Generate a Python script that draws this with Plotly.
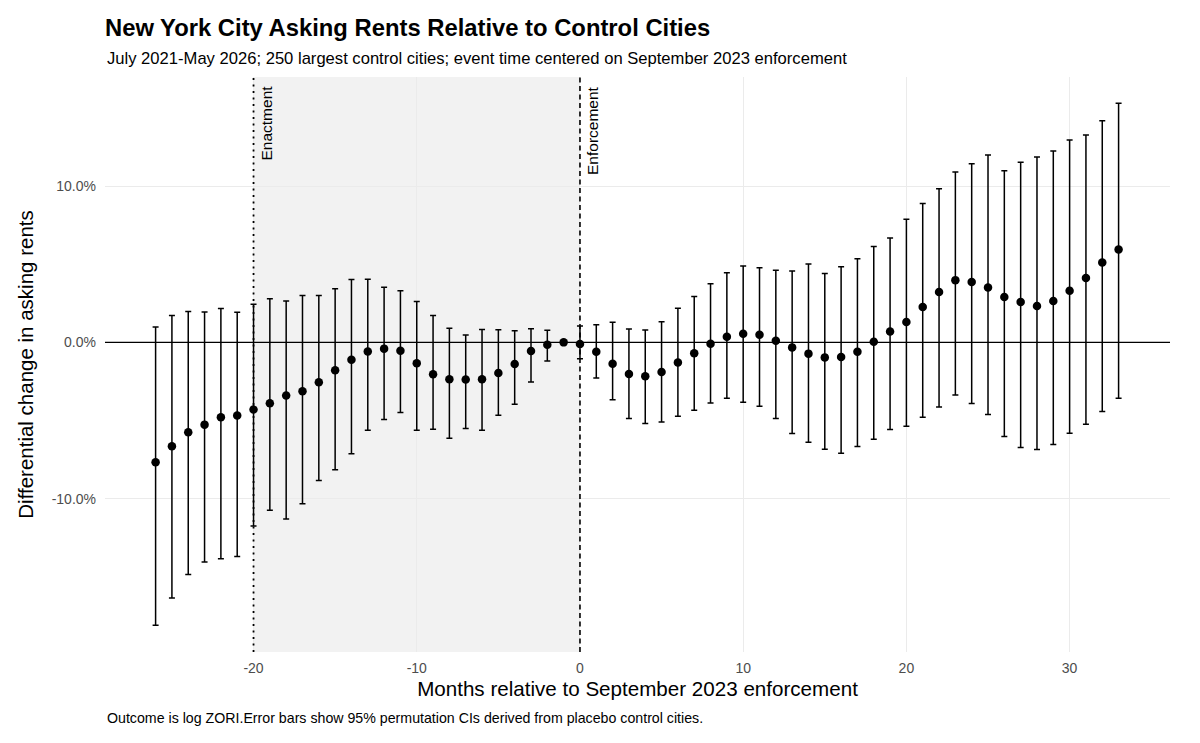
import numpy as np
import plotly.graph_objects as go

# Event-study estimates (percent), months relative to Sept 2023 enforcement
months = list(range(-26, 34))
est = [-7.66, -6.64, -5.75, -5.26, -4.79, -4.68, -4.30, -3.89, -3.40, -3.13,
       -2.55, -1.79, -1.11, -0.58, -0.40, -0.53, -1.34, -2.04, -2.36, -2.38,
       -2.36, -1.96, -1.39, -0.55, -0.15, 0.00, -0.10, -0.60, -1.36, -2.02,
       -2.17, -1.89, -1.28, -0.70, -0.09, 0.36, 0.55, 0.49, 0.11, -0.32,
       -0.72, -0.96, -0.93, -0.60, 0.04, 0.70, 1.30, 2.26, 3.22, 3.98,
       3.86, 3.51, 2.90, 2.58, 2.32, 2.64, 3.30, 4.11, 5.11, 5.94]
ci_hi = [0.98, 1.72, 1.98, 1.94, 2.17, 1.92, 2.43, 2.79, 2.64, 3.00,
         3.00, 3.43, 4.02, 4.04, 3.53, 3.30, 2.62, 1.72, 0.91, 0.47,
         0.83, 0.81, 0.75, 0.87, 0.78, None, 1.04, 1.12, 1.29, 0.85,
         0.79, 1.32, 2.19, 2.94, 3.75, 4.45, 4.88, 4.77, 4.62, 4.56,
         5.01, 4.41, 4.84, 5.35, 6.13, 6.67, 7.88, 8.88, 9.82, 10.90,
         11.43, 11.99, 10.98, 11.52, 11.86, 12.24, 12.94, 13.26, 14.18, 15.29]
ci_lo = [-18.09, -16.35, -14.85, -14.05, -13.83, -13.70, -11.75, -10.73, -11.30, -10.32,
         -8.83, -8.15, -7.13, -5.62, -4.93, -4.49, -5.62, -5.56, -6.13, -5.50,
         -5.62, -4.66, -3.96, -2.54, -1.19, None, -1.04, -2.28, -3.67, -4.87,
         -5.19, -5.09, -4.72, -4.34, -3.88, -3.58, -3.83, -4.09, -4.87, -5.83,
         -6.39, -6.83, -7.09, -6.66, -6.20, -5.57, -5.36, -4.79, -4.13, -3.37,
         -3.91, -4.62, -6.02, -6.72, -6.85, -6.53, -5.81, -5.23, -4.42, -3.58]

enactment = -20
enforcement = 0
y_ticks = [-10, 0, 10]
y_labels = ["-10.0%", "0.0%", "10.0%"]
x_ticks = [-20, -10, 0, 10, 20, 30]
x_labels = ["-20", "-10", "0", "10", "20", "30"]

x = np.array(months, dtype=float)
y = np.array(est, dtype=float)
hi = np.array(ci_hi, dtype=float)
lo = np.array(ci_lo, dtype=float)
has_ci = ~np.isnan(hi)

FONT = "Liberation Sans, Arial, Helvetica, sans-serif"

fig = go.Figure()

# estimates with permutation CIs
fig.add_trace(go.Scatter(
    x=x[has_ci], y=y[has_ci], mode="markers",
    marker=dict(color="black", size=8.5),
    error_y=dict(type="data", symmetric=False,
                 array=hi[has_ci] - y[has_ci],
                 arrayminus=y[has_ci] - lo[has_ci],
                 color="black", thickness=1.5, width=3),
    showlegend=False,
))
# reference period (no interval)
fig.add_trace(go.Scatter(
    x=x[~has_ci], y=y[~has_ci], mode="markers",
    marker=dict(color="black", size=8.5), showlegend=False,
))

# shaded period between enactment and enforcement
fig.add_shape(type="rect", xref="x", yref="paper", x0=enactment, x1=enforcement,
              y0=0, y1=1, fillcolor="#f2f2f2", line_width=0, layer="below")
fig.add_shape(type="line", xref="paper", yref="y", x0=0, x1=1, y0=0, y1=0,
              line=dict(color="black", width=1.3))
fig.add_shape(type="line", xref="x", yref="paper", x0=enactment, x1=enactment,
              y0=0, y1=1, line=dict(color="black", width=1.8, dash="2px,4.5px"))
fig.add_shape(type="line", xref="x", yref="paper", x0=enforcement, x1=enforcement,
              y0=0, y1=1, line=dict(color="black", width=1.6, dash="5px,3.5px"))

for xv, label in [(enactment, "Enactment"), (enforcement, "Enforcement")]:
    fig.add_annotation(x=xv, y=1, xref="x", yref="paper", text=label,
                       textangle=-90, showarrow=False, xanchor="left",
                       yanchor="top", xshift=2, yshift=-7,
                       font=dict(size=15.5, color="black", family=FONT))

fig.add_annotation(x=0, y=1.033, xref="paper", yref="paper", xanchor="left",
                   yanchor="middle", showarrow=False,
                   text="July 2021-May 2026; 250 largest control cities; event time centered on September 2023 enforcement",
                   font=dict(size=16.6, color="black", family=FONT))
fig.add_annotation(x=0, y=-0.115, xref="paper", yref="paper", xanchor="left",
                   yanchor="middle", showarrow=False,
                   text="Outcome is log ZORI.Error bars show 95% permutation CIs derived from placebo control cities.",
                   font=dict(size=14.2, color="black", family=FONT))

fig.update_layout(
    width=1200, height=743,
    margin=dict(l=105, r=30, t=77, b=91),
    plot_bgcolor="white", paper_bgcolor="white",
    font=dict(family=FONT, color="black"),
    title=dict(text="<b>New York City Asking Rents Relative to Control Cities</b>",
               xref="container", x=105 / 1200, xanchor="left",
               y=1 - 28 / 743, yanchor="middle",
               font=dict(size=23.8, color="black", family=FONT)),
    xaxis=dict(range=[-29.1, 36.15], tickvals=x_ticks, ticktext=x_labels,
               showgrid=True, gridcolor="#ebebeb", gridwidth=1.2, zeroline=False,
               showline=False, ticks="", ticklabelstandoff=6,
               tickfont=dict(size=14, color="#4d4d4d"),
               title=dict(text="Months relative to September 2023 enforcement",
                          font=dict(size=20.6, color="black"), standoff=6)),
    yaxis=dict(range=[-19.8, 16.97], tickvals=y_ticks, ticktext=y_labels,
               showgrid=True, gridcolor="#ebebeb", gridwidth=1.2, zeroline=False,
               showline=False, ticks="", ticklabelstandoff=8,
               tickfont=dict(size=14, color="#4d4d4d"),
               title=dict(text="Differential change in asking rents",
                          font=dict(size=20.5, color="black"), standoff=12)),
)

fig.write_html("out.html", config={"displayModeBar": False},
               post_script="document.body.style.margin='0';")
